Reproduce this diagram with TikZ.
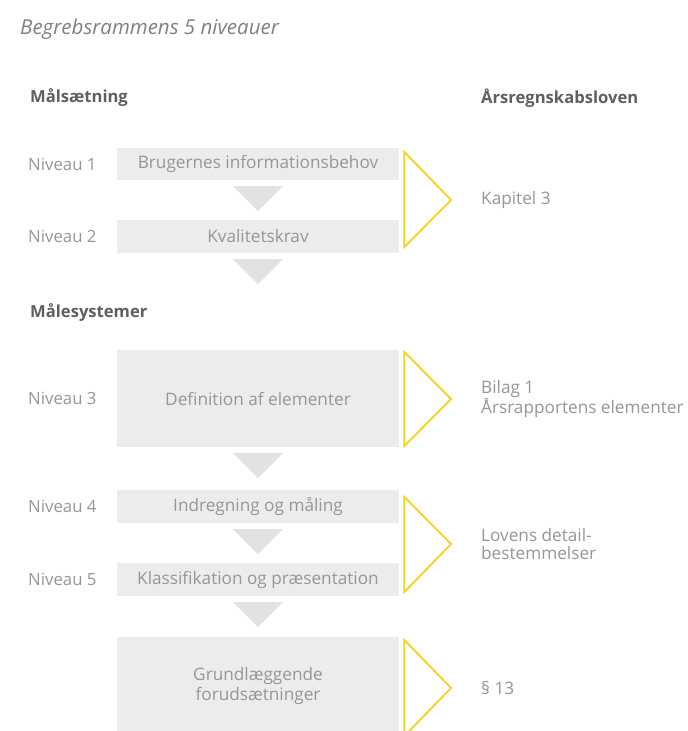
\documentclass[tikz,border=0pt]{standalone}
\usepackage{fontspec}
\setmainfont{Open Sans}
\usepackage{tikz}
\usetikzlibrary{calc}
\usetikzlibrary{positioning}

\definecolor{boxgray}{RGB}{236,236,236}
\definecolor{arrowgray}{RGB}{226,226,226}
\definecolor{textgray}{RGB}{150,150,150}
\definecolor{headgray}{RGB}{95,95,95}
\definecolor{lawyellow}{RGB}{242,212,30}

\begin{document}
\begin{tikzpicture}
		[x=1pt, y=-1pt,
		font=\fontsize{17.2}{20}\selectfont,
		text=textgray
		]
		
		% Page size and background
		\useasboundingbox (0,0) rectangle (688,731);
		\fill[white] (0,0) rectangle (688,731);
		\clip (0,0) rectangle (688,731);
		
		% Styles for boxes, labels and law references
		\tikzstyle{niveau box}=[fill=boxgray,minimum width=282pt,inner sep=0pt,align=center];
		\tikzstyle{niveau label}=[inner sep=0pt,font=\fontsize{16.8}{20}\selectfont];
		\tikzstyle{heading}=[anchor=west,inner sep=0pt,text=headgray,font=\fontsize{16.6}{20}\selectfont\bfseries];
		\tikzstyle{law bracket}=[draw=lawyellow,line width=1.8pt,line join=miter];
		\tikzstyle{law text}=[inner sep=0pt,align=left,font=\fontsize{17.2}{18}\selectfont];
		
		% Title and headings
		\node(title)[anchor=west,inner sep=0pt,text=gray,font=\fontsize{20.5}{24}\selectfont\itshape]at(20,29){Begrebsrammens 5 niveauer};
		\node(maal)[heading]at(30,98){Målsætning};
		\node(lov)[heading]at(481,98){Årsregnskabsloven};
		\node(maalesys)[heading]at(30,313){Målesystemer};
		
		% The five levels
		\node(b1)[niveau box,minimum height=32pt]at(258,164){Brugernes informationsbehov};
		\node(b2)[niveau box,minimum height=33pt]at(258,236.5){Kvalitetskrav};
		\node(b3)[niveau box,minimum height=97pt]at(258,398.5){Definition af elementer};
		\node(b4)[niveau box,minimum height=33pt]at(258,506.5){Indregning og måling};
		\node(b5)[niveau box,minimum height=33pt]at(258,579.5){Klassifikation og præsentation};
		\node(b6)[niveau box,minimum height=98pt]at(258,686){Grundlæggende\\forudsætninger};
		
		% Level names
		\foreach \n in {1,...,5} \node(n\n)[niveau label,left=20pt of b\n]{Niveau \n};
		
		% Arrows between levels
		\foreach \b in {b1,b2,b3,b4,b5} \fill[arrowgray]($(\b.south)+(-25,6)$)--($(\b.south)+(25,6)$)--($(\b.south)+(0,31)$)--cycle;
		
		% Brackets to the law
		\coordinate(k1)at(451,200);
		\coordinate(k2)at(451,399);
		\coordinate(k3)at(451,544);
		\coordinate(k4)at(451,688);
		\draw[law bracket]($(b1.north east)+(5,4)$)--(k1)--($(b2.south east)+(5,-6)$)--cycle;
		\draw[law bracket]($(b3.north east)+(5,2)$)--(k2)--($(b3.south east)+(5,-1)$)--cycle;
		\draw[law bracket]($(b4.north east)+(5,7)$)--(k3)--($(b5.south east)+(5,-4)$)--cycle;
		\draw[law bracket]($(b6.north east)+(5,3)$)--(k4)--($(b6.south east)+(5,1)$)--cycle;
		
		% Law references
		\node(r1)[law text,right=30pt of k1]{Kapitel 3};
		\node(r2)[law text,right=30pt of k2]{Bilag 1\\Årsrapportens elementer};
		\node(r3)[law text,right=30pt of k3]{Lovens detail-\\bestemmelser};
		\node(r4)[law text,right=30pt of k4]{§ 13};
		\end{tikzpicture}
\end{document}
